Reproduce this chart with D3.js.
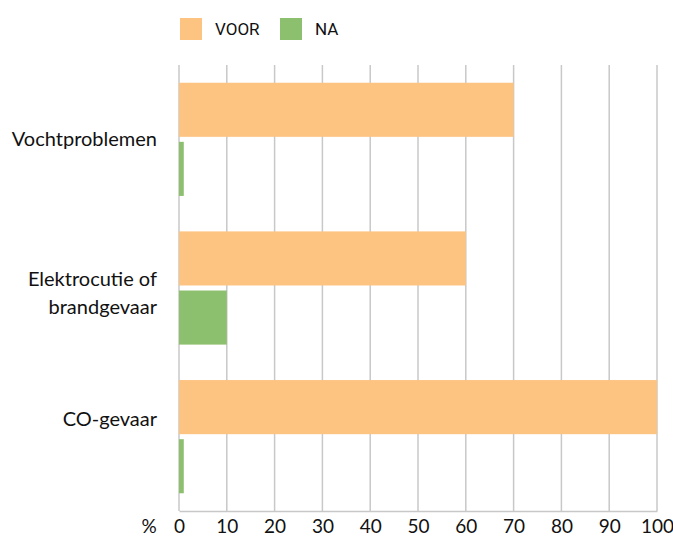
<!DOCTYPE html>
<html>
<head>
<meta charset="utf-8">
<script src="https://cdn.jsdelivr.net/npm/d3@7"></script>
<style>
  html, body { margin: 0; padding: 0; background: #fff; }
  svg { display: block; font-family: Lato, "Open Sans", sans-serif; }
</style>
</head>
<body>
<svg id="chart" width="673" height="537"></svg>
<script>
// Categories (top to bottom) and their display lines
const categories = ["Vochtproblemen", "Elektrocutie of brandgevaar", "CO-gevaar"];
const categoryLines = [["Vochtproblemen"], ["Elektrocutie of", "brandgevaar"], ["CO-gevaar"]];

// Series
const seriesNames = ["VOOR", "NA"];
const voorValues = [70, 60, 100];
const naValues = [1, 10, 1];

// Axis ticks
const tickValues = [0, 10, 20, 30, 40, 50, 60, 70, 80, 90, 100];
const axisUnit = "%";

const colors = { VOOR: "#FDC381", NA: "#8DC06E" };
const gridColor = "#c8c8c8";
const textColor = "#111111";

const svg = d3.select("#chart");
const plot = { left: 179, right: 657, top: 65, bottom: 511 };

const x = d3.scaleLinear().domain([0, 100]).range([plot.left, plot.right]);
const y0 = d3.scaleBand().domain(categories).range([plot.top, plot.bottom]).padding(0);
const y1 = d3.scaleBand().domain(seriesNames).range([0, y0.bandwidth()])
  .paddingInner(0.085).paddingOuter(0.3);
const labelY = d3.scalePoint().domain(categories).range([139, 419]);

const rows = categories.map((c, i) => ({ category: c, VOOR: voorValues[i], NA: naValues[i] }));

// Vertical grid lines
svg.append("g").selectAll("line").data(tickValues).join("line")
  .attr("x1", d => x(d)).attr("x2", d => x(d))
  .attr("y1", plot.top).attr("y2", plot.bottom)
  .attr("stroke", gridColor).attr("stroke-width", 1.5);

// Bars
const groups = svg.append("g").selectAll("g").data(rows).join("g")
  .attr("transform", d => `translate(0,${y0(d.category)})`);
groups.selectAll("rect").data(d => seriesNames.map(s => ({ s, v: d[s] }))).join("rect")
  .attr("x", x(0))
  .attr("y", d => y1(d.s))
  .attr("width", d => x(d.v) - x(0))
  .attr("height", y1.bandwidth())
  .attr("fill", d => colors[d.s]);

// Bottom axis
const xAxis = svg.append("g").attr("transform", `translate(0,${plot.bottom})`)
  .call(d3.axisBottom(x).tickValues(tickValues).tickSize(0).tickPadding(9));
xAxis.select(".domain").attr("stroke", gridColor).attr("stroke-width", 1.5);
xAxis.selectAll("text").attr("font-size", 19).attr("fill", textColor)
  .attr("font-family", "Lato, sans-serif").attr("dy", "0.71em");
svg.append("text").attr("x", 149).attr("y", plot.bottom + 9).attr("dy", "0.71em")
  .attr("text-anchor", "middle").attr("font-size", 19).attr("fill", textColor)
  .text(axisUnit);

// Category labels
const lineHeight = 28;
const labels = svg.append("g").selectAll("text").data(categories).join("text")
  .attr("text-anchor", "end").attr("font-size", 20).attr("fill", textColor)
  .attr("x", 157)
  .attr("y", d => labelY(d));
labels.each(function(d, i) {
  const t = d3.select(this);
  categoryLines[i].forEach((ln, j) => {
    t.append("tspan").attr("x", 157).attr("dy", j === 0 ? "0.35em" : lineHeight).text(ln);
  });
});

// Legend
const legendItems = [{ s: "VOOR", x: 180 }, { s: "NA", x: 280 }];
const legend = svg.append("g").selectAll("g").data(legendItems).join("g")
  .attr("transform", d => `translate(${d.x},18)`);
legend.append("rect").attr("width", 22).attr("height", 22).attr("fill", d => colors[d.s]);
legend.append("text").attr("x", 35).attr("y", 17).attr("font-size", 17)
  .attr("font-family", "Roboto, sans-serif")
  .attr("fill", textColor).text(d => d.s);
</script>
</body>
</html>
